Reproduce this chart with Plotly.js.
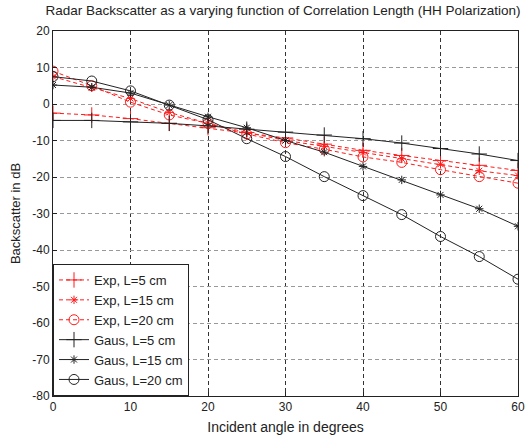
<!DOCTYPE html>
<html><head><meta charset="utf-8">
<script src="https://cdn.plot.ly/plotly-3.0.1.min.js"></script>
<style>html,body{margin:0;padding:0;background:#fff;}#chart{width:529px;height:436px;}</style>
</head><body><div id="chart"></div>
<script>
const angles = [0,5,10,15,20,25,30,35,40,45,50,55,60];
const expL5   = [-2.5,-3,-4,-5.3,-6.5,-7.8,-9.3,-11,-12.7,-14.1,-15.5,-16.8,-18.2];
const expL15  = [7.5,4.5,1.5,-2.3,-5.3,-7.8,-10,-11.6,-13.3,-15,-16.5,-18.3,-19.6];
const expL20  = [9,5,0.5,-3,-5.3,-8.2,-10.6,-12.4,-14.5,-16,-18,-19.9,-21.7];
const gausL5  = [-4.5,-4.5,-4.9,-5.3,-6,-6.9,-7.7,-8.5,-9.5,-10.7,-12.2,-13.7,-15.5];
const gausL15 = [5.2,4.6,3,-0.3,-3.5,-6.5,-10,-13.2,-17.1,-20.8,-24.9,-28.7,-33.5];
const gausL20 = [7.5,6.3,3.6,-0.3,-4.3,-9.5,-14.4,-19.9,-25.1,-30.3,-36.3,-41.8,-48];
const names = ['Exp, L=5 cm','Exp, L=15 cm','Exp, L=20 cm','Gaus, L=5 cm','Gaus, L=15 cm','Gaus, L=20 cm'];
const yTickVals = [20,10,0,-10,-20,-30,-40,-50,-60,-70,-80];
const yTickLabels = ['20','10','0','-10','-20','-30','-40','-50','-60','-70','-80'];
const xTickVals = [0,10,20,30,40,50,60];
const xTickLabels = ['0','10','20','30','40','50','60'];
const series = [expL5, expL15, expL20, gausL5, gausL15, gausL20];
const symbols = ['cross-thin-open','asterisk-open','circle-open','cross-thin-open','asterisk-open','circle-open'];
const sizes = [11,7,10,11,7,10];
const traces = series.map((s,i)=>{
  const red = i<3;
  const col = red ? '#ff1a1a' : '#222';
  return {x: angles, y: s, name: names[i], type:'scatter', mode:'lines+markers',
    line:{color: col, width:1, dash: red?'4px,3px':'solid'},
    marker:{symbol: symbols[i], size: sizes[i], color: col, line:{color:col, width:1}}};
});
const layout = {
  width:529, height:436,
  margin:{l:53, r:11, t:31, b:40},
  paper_bgcolor:'#fff', plot_bgcolor:'#fff',
  font:{family:'Liberation Sans, Arial, sans-serif', size:12, color:'#222'},
  title:{text:'Radar Backscatter as a varying function of Correlation Length (HH Polarization)', x:0.535, xanchor:'center', y:0.988, yanchor:'top', font:{size:13.5, color:'#222'}},
  xaxis:{range:[0,60], tickvals:xTickVals, ticktext:xTickLabels, showgrid:true, gridcolor:'#333', griddash:'4px,3px', gridwidth:1,
    showline:true, mirror:true, linecolor:'#222', linewidth:1, ticks:'inside', ticklen:4, tickcolor:'#222', zeroline:false,
    title:{text:'Incident angle in degrees', standoff:8, font:{size:14}}},
  yaxis:{range:[-80,20], tickvals:yTickVals, ticktext:yTickLabels, showgrid:true, gridcolor:'#999', griddash:'4px,3px', gridwidth:1,
    showline:true, mirror:true, linecolor:'#222', linewidth:1, ticks:'inside', ticklen:4, tickcolor:'#222', zeroline:false,
    title:{text:'Backscatter in dB', standoff:8, font:{size:13}}},
  legend:{x:0, y:0, xanchor:'left', yanchor:'bottom', bgcolor:'#fff', bordercolor:'#222', borderwidth:1,
    font:{size:13}, itemwidth:30, tracegroupgap:0},
  showlegend:true
};
Plotly.newPlot('chart', traces, layout, {displayModeBar:false, staticPlot:true});
</script></body></html>
